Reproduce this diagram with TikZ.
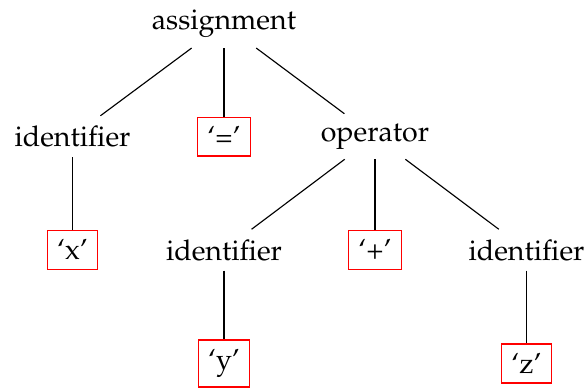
\documentclass[tikz,border=0pt]{standalone}
\usepackage[T1]{fontenc}
\usepackage{mathpazo}
\begin{document}
\begin{tikzpicture}[x=0.35pt,y=-0.35pt,
  every node/.style={font=\fontsize{10}{12}\selectfont, anchor=center},
  tok/.style={draw=red, line width=0.4pt},
  edge/.style={draw=black, line width=0.4pt}]
\useasboundingbox (0,0) rectangle (587,387);
% level 0
\node (a) at (224,24) {assignment};
% level 1
\node (i1) at (72.5,136.5) {identifier};
\node[tok] (eq) at (224,136.5) {`='};
\node (op) at (375,136.5) {operator};
% level 2
\node[tok] (x) at (72.5,250) {`x'};
\node (i2) at (224,250) {identifier};
\node[tok] (plus) at (375,250) {`+'};
\node (i3) at (526.5,250) {identifier};
% level 3
\node[tok] (y) at (224,363.5) {`y'};
\node[tok] (z) at (526.5,363.5) {`z'};
% edges
\draw[edge] (a) -- (i1);
\draw[edge] (a) -- (eq);
\draw[edge] (a) -- (op);
\draw[edge] (i1) -- (x);
\draw[edge] (op) -- (i2);
\draw[edge] (op) -- (plus);
\draw[edge] (op) -- (i3);
\draw[edge] (i2) -- (y);
\draw[edge] (i3) -- (z);
\end{tikzpicture}
\end{document}
